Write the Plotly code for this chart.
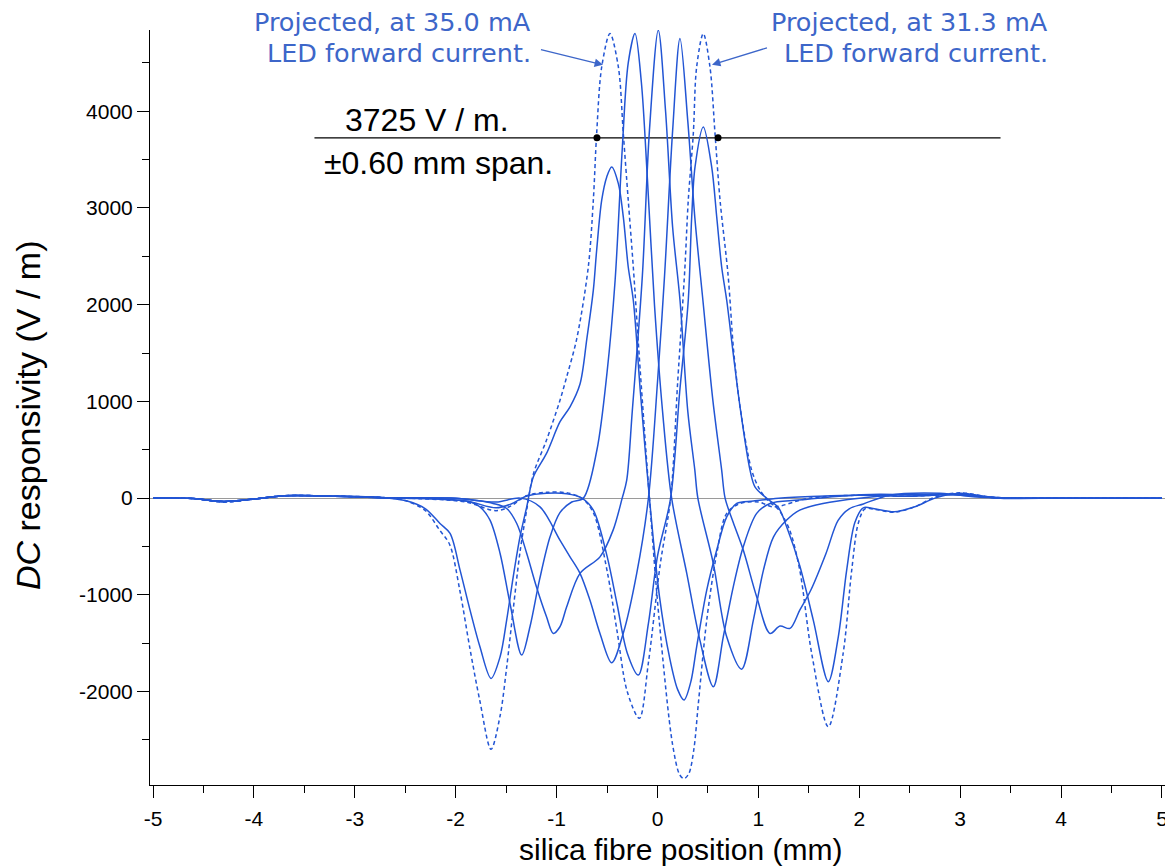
import plotly.graph_objects as go

# ---------------- data ----------------
# Solid curve A (peak near -0.45 mm)
a_x = [-5, -4.6, -4.3, -4.0, -3.7, -3.2, -2.7, -2.49, -2.3, -2.156, -2.056, -1.957, -1.858, -1.76, -1.65,
       -1.56, -1.495, -1.43, -1.363, -1.296, -1.23, -1.1, -0.966, -0.867, -0.768, -0.70, -0.636, -0.603,
       -0.553, -0.503, -0.454, -0.388, -0.339, -0.29, -0.24, -0.17, -0.08, 0.02, 0.12, 0.2, 0.263, 0.33,
       0.388, 0.488, 0.587, 0.686, 0.785, 0.95, 1.2, 1.6, 2.0, 2.5, 3.0, 3.3, 3.6, 5]
a_y = [0, -5, -35, -10, 25, 20, 5, -28, -110, -262, -365, -744, -1158, -1537, -1864,
       -1640, -1261, -813, -400, -90, 220, 462, 790, 944, 1180, 1650, 2150, 2563,
       3080, 3321, 3424, 3252, 2907, 2390, 2046, 1100, 0, -1020, -1650, -1980, -2088, -1900,
       -1537, -951, -537, -193, -55, -30, 0, 20, 30, 20, 40, 10, 0, 0]

# Solid curve B (peak near -0.22 mm)
b_x = [-5, -4.6, -4.3, -4.0, -3.7, -3.2, -2.7, -2.3, -2.0, -1.86, -1.76, -1.66, -1.56, -1.462, -1.346,
       -1.264, -1.17, -1.065, -0.967, -0.85, -0.735, -0.6, -0.5, -0.42, -0.35, -0.29, -0.223, -0.16,
       -0.1, -0.03, 0.05, 0.14, 0.29, 0.42, 0.553, 0.652, 0.751, 0.85, 0.983, 1.115, 1.4, 1.8, 2.2,
       2.6, 3.0, 3.4, 4.0, 5]
b_y = [0, -5, -35, -10, 25, 20, 5, 0, -20, -38, -90, -227, -572, -1088, -1623,
       -1330, -848, -400, -150, -40, 0, 500, 1300, 2253, 3600, 4500, 4803, 4300,
       3300, 2000, 900, 0, -778, -1468, -1950, -1434, -917, -503, -158, -55, -20, 20, 40,
       30, 40, 0, 0, 0]

# Solid curve C (central peak)
c_x = [-5, -4.6, -4.3, -4.0, -3.7, -3.2, -2.7, -2.0, -1.75, -1.63, -1.495, -1.395, -1.296, -1.2, -1.1,
       -1.033, -0.967, -0.9, -0.768, -0.57, -0.44, -0.35, -0.305, -0.25, -0.15, -0.08, 0.008, 0.08,
       0.15, 0.223, 0.3, 0.37, 0.40, 0.553, 0.686, 0.834, 0.95, 1.05, 1.15, 1.28, 1.41, 1.64, 2.0,
       2.5, 3.0, 3.4, 4.0, 5]
c_y = [0, -5, -35, -10, 25, 20, 5, 0, -30, -55, -107, -262, -572, -917, -1227,
       -1399, -1330, -1124, -778, -607, -331, 0, 186, 900, 2300, 3800, 4837, 4000,
       2800, 2046, 900, 290, 0, -675, -1434, -1768, -1261, -744, -400, -227, -124, -55, 0,
       40, 30, 0, 0, 0]

# Solid curve D (peak near +0.22 mm)
d_x = [-5, -4.6, -4.3, -4.0, -3.7, -3.2, -2.7, -2.0, -1.6, -1.36, -1.165, -0.967, -0.867, -0.768, -0.67,
       -0.57, -0.454, -0.34, -0.206, -0.09, 0.0, 0.07, 0.15, 0.223, 0.3, 0.37, 0.45, 0.55, 0.636,
       0.67, 0.75, 0.85, 0.983, 1.115, 1.214, 1.313, 1.41, 1.52, 1.67, 1.79, 1.9, 2.04, 2.3, 2.8,
       3.2, 3.6, 5]
d_y = [0, -5, -35, -10, 25, 20, 5, 0, -40, 0, -90, -434, -607, -778, -1054,
       -1399, -1702, -1399, -778, 0, 1200, 2300, 3800, 4751, 3900, 2900, 2046, 1000, 290,
       0, -250, -537, -1020, -1399, -1323, -1347, -1158, -950, -572, -230, -110, -60, 30, 50,
       10, 0, 0]

# Solid curve E (peak near +0.45 mm)
e_x = [-5, -4.6, -4.3, -4.0, -3.7, -3.2, -2.7, -2.5, -1.9, -1.6, -1.45, -1.3, -1.1, -0.9, -0.75,
       -0.636, -0.5, -0.4, -0.3, -0.19, -0.09, 0.0, 0.13, 0.22, 0.305, 0.339, 0.372, 0.454, 0.537,
       0.587, 0.636, 0.686, 0.75, 0.818, 0.917, 0.966, 1.08, 1.2, 1.28, 1.41, 1.544, 1.693, 1.792,
       1.875, 1.957, 2.04, 2.15, 2.35, 2.55, 2.75, 3.0, 3.3, 3.6, 5]
e_y = [0, -5, -35, -10, 25, 20, 5, 0, -30, -100, -60, 20, 50, 45, 0,
       -124, -600, -1100, -1600, -1829, -1295, -600, 0, 1100, 2046, 2907, 3424, 3838, 3424,
       2907, 2390, 2046, 1500, 944, 290, 117, 0, -100, -297, -700, -1261, -1898, -1434,
       -744, -250, -100, -110, -140, -90, 0, 50, 10, 0, 0]

# Dashed projection of A (35.0 mA)
pa_x = [-5, -4.6, -4.3, -4.0, -3.7, -3.2, -2.7, -2.5, -2.3, -2.16, -2.06, -1.96, -1.86, -1.76, -1.65,
        -1.56, -1.495, -1.43, -1.363, -1.296, -1.23, -1.1, -0.97, -0.9, -0.8, -0.686, -0.636, -0.603,
        -0.553, -0.471, -0.388, -0.339, -0.29, -0.24, -0.17, -0.08, 0.02, 0.15, 0.22, 0.263, 0.31,
        0.36, 0.405, 0.488, 0.587, 0.686, 0.818, 1.0, 1.15, 1.5, 2.0, 2.5, 3.0, 3.3, 3.6, 5]
pa_y = [0, -5, -40, -10, 25, 20, 5, -25, -130, -330, -480, -950, -1550, -2100, -2597,
        -2250, -1750, -1150, -560, -120, 250, 600, 1000, 1254, 1650, 2390, 3080, 3770,
        4458, 4803, 4458, 3770, 3080, 2390, 1300, 0, -1300, -2550, -2860, -2900, -2850,
        -2600, -2122, -1261, -572, -158, -55, -40, -90, 0, 30, 20, 40, 10, 0, 0]

# Dashed projection of E (31.3 mA)
pe_x = [-5, -4.6, -4.3, -4.0, -3.7, -3.2, -2.7, -2.5, -1.9, -1.6, -1.45, -1.3, -1.1, -0.9, -0.75,
        -0.636, -0.5, -0.4, -0.3, -0.18, -0.09, 0.025, 0.13, 0.2, 0.272, 0.305, 0.355, 0.388, 0.454,
        0.52, 0.57, 0.62, 0.70, 0.751, 0.785, 0.818, 0.933, 1.016, 1.1, 1.2, 1.31, 1.41, 1.528,
        1.693, 1.84, 1.925, 1.99, 2.056, 2.15, 2.35, 2.55, 2.75, 3.0, 3.3, 3.6, 5]
pe_y = [0, -5, -40, -10, 25, 20, 5, 0, -40, -130, -80, 25, 60, 55, 0,
        -150, -750, -1380, -2000, -2277, -1700, -700, 0, 1200, 2390, 3080, 3770, 4458, 4803,
        4458, 3770, 3080, 2300, 1564, 1220, 944, 290, 83, -30, -120, -331, -744, -1605,
        -2364, -1605, -744, -260, -110, -115, -145, -90, 10, 55, 10, 0, 0]

# 3725 V/m level and the +/-0.60 mm span markers
level_x = [-3.4, 3.4]
level_y = [3725, 3725]
span_x = [-0.60, 0.60]
span_y = [3725, 3725]

x_ticks = [-5, -4, -3, -2, -1, 0, 1, 2, 3, 4, 5]
y_ticks = [-2000, -1000, 0, 1000, 2000, 3000, 4000]

# ---------------- figure ----------------
BLUE = "#2255d4"
TEXT_BLUE = "#3d66c9"
SANS = "Liberation Sans, Arial, sans-serif"
WIDE = "DejaVu Sans, Verdana, sans-serif"

fig = go.Figure()

fig.add_trace(go.Scatter(x=level_x, y=level_y, mode="lines",
                         line=dict(color="black", width=1.2), hoverinfo="skip"))

for xs, ys in [(a_x, a_y), (b_x, b_y), (c_x, c_y), (d_x, d_y), (e_x, e_y)]:
    fig.add_trace(go.Scatter(x=xs, y=ys, mode="lines",
                             line=dict(color=BLUE, width=1.5, shape="spline", smoothing=0.9)))

for xs, ys in [(pa_x, pa_y), (pe_x, pe_y)]:
    fig.add_trace(go.Scatter(x=xs, y=ys, mode="lines",
                             line=dict(color=BLUE, width=1.5, shape="spline", smoothing=0.9,
                                       dash="4px,3px")))

fig.add_trace(go.Scatter(x=span_x, y=span_y, mode="markers",
                         marker=dict(color="black", size=7)))

# the page body keeps an 8 px margin, so the figure is sized to fit the window from there
fig.update_layout(
    width=1165, height=860,
    margin=dict(l=142, r=8, t=22, b=83),
    plot_bgcolor="white", paper_bgcolor="white",
    showlegend=False,
    font=dict(family=SANS, color="black"),
)

fig.update_xaxes(
    range=[-5.03, 5.03], showgrid=False, zeroline=False, automargin=False,
    showline=True, linecolor="black", linewidth=1,
    ticks="outside", ticklen=12, tickwidth=1, tickcolor="black",
    tickvals=x_ticks, ticktext=[str(v) for v in x_ticks],
    tickfont=dict(size=21, family=SANS), ticklabelstandoff=3,
    minor=dict(dtick=0.5, ticks="outside", ticklen=7, tickcolor="black", showgrid=False),
)
fig.update_yaxes(
    range=[-2966, 4840], showgrid=False, automargin=False,
    zeroline=True, zerolinecolor="#9a9a9a", zerolinewidth=1.2,
    showline=True, linecolor="black", linewidth=1,
    ticks="outside", ticklen=12, tickwidth=1, tickcolor="black",
    tickvals=y_ticks, ticktext=[str(v) for v in y_ticks],
    tickfont=dict(size=21, family=SANS),
    minor=dict(dtick=500, ticks="outside", ticklen=7, tickcolor="black", showgrid=False),
)

# axis titles
fig.add_annotation(x=0.523, y=-0.1086, xref="paper", yref="paper", showarrow=False,
                   xanchor="center", yanchor="bottom", borderpad=0,
                   text="silica fibre position (mm)",
                   font=dict(size=30, color="black", family=SANS))
fig.add_annotation(x=-0.1202, y=0.490, xref="paper", yref="paper", showarrow=False,
                   xanchor="center", yanchor="middle", textangle=-90,
                   text="<i>DC</i> responsivity (V / m)",
                   font=dict(size=34, color="black", family=SANS))

# level labels
fig.add_annotation(x=-3.117, y=3907, xref="x", yref="y", showarrow=False, xanchor="left",
                   text="3725 V / m.", font=dict(size=32, color="black", family=SANS))
fig.add_annotation(x=-3.325, y=3463, xref="x", yref="y", showarrow=False, xanchor="left",
                   text="±0.60 mm span.", font=dict(size=32, color="black", family=SANS))

# projection labels (paper coordinates, right aligned)
for xp, lines in [(0.3773, ["Projected, at 35.0 mA", "LED forward current."]),
                  (0.8867, ["Projected, at 31.3 mA", "LED forward current."])]:
    fig.add_annotation(x=xp, y=1.0106, xref="paper", yref="paper", showarrow=False,
                       xanchor="right", yanchor="middle", text=lines[0],
                       font=dict(size=25.5, color=TEXT_BLUE, family=WIDE))
    fig.add_annotation(x=xp, y=0.9695, xref="paper", yref="paper", showarrow=False,
                       xanchor="right", yanchor="middle", text=lines[1],
                       font=dict(size=25.5, color=TEXT_BLUE, family=WIDE))

# arrows
fig.add_annotation(x=-0.54, y=4480, ax=-1.17, ay=4640, xref="x", yref="y", axref="x", ayref="y",
                   text="", showarrow=True, arrowhead=2, arrowsize=1.3, arrowwidth=1.3,
                   arrowcolor=TEXT_BLUE)
fig.add_annotation(x=0.54, y=4480, ax=1.1, ay=4660, xref="x", yref="y", axref="x", ayref="y",
                   text="", showarrow=True, arrowhead=2, arrowsize=1.3, arrowwidth=1.3,
                   arrowcolor=TEXT_BLUE)

fig.write_html("out.html")
